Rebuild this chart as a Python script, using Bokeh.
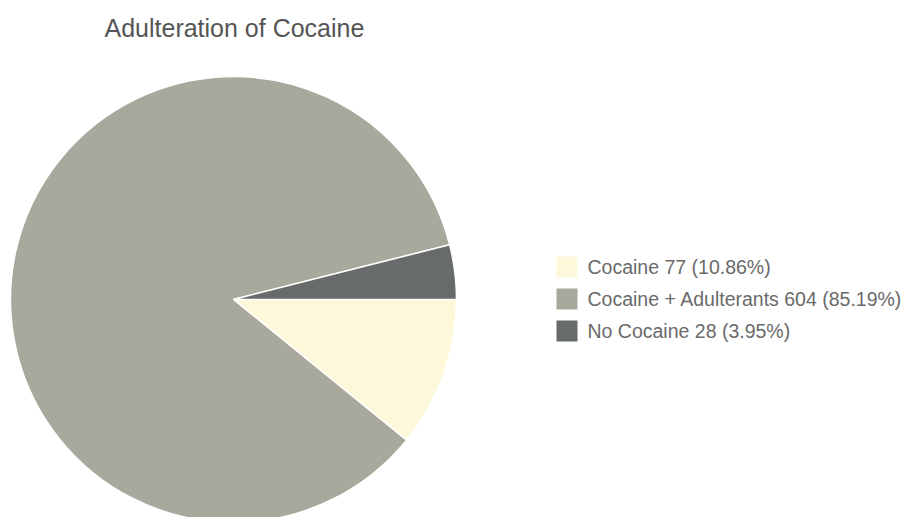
import math
from bokeh.plotting import figure
from bokeh.models import Range1d
from bokeh.core.properties import value
from bokeh.embed import file_html
from bokeh.resources import INLINE

title_text = "Adulteration of Cocaine"
categories = ["Cocaine", "Cocaine + Adulterants", "No Cocaine"]
counts = [77, 604, 28]
colors = ["#FDF8DA", "#A8A89C", "#676B69"]

W, H = 905, 517
p = figure(width=W, height=H, output_backend="svg", toolbar_location=None,
           x_range=Range1d(0, W), y_range=Range1d(0, H), min_border=0)
p.axis.visible = False
p.grid.visible = False
p.outline_line_color = None
p.background_fill_color = "white"
p.border_fill_color = "white"

def px(x):
    return x

def py(y):
    return H - y

total = sum(counts)
fracs = [c / total for c in counts]

# wedges: start at 3 o'clock, proceed clockwise
cx, cy, r = px(233), py(299), 223
cum = 0.0
starts, ends = [], []
for f in fracs:
    a0 = cum * 2 * math.pi
    cum += f
    a1 = cum * 2 * math.pi
    starts.append(-a1)
    ends.append(-a0)

p.wedge(x=[cx] * len(counts), y=[cy] * len(counts), radius=r,
        start_angle=starts, end_angle=ends, direction="anticlock",
        fill_color=colors, line_color="white", line_width=1.5)

# title
p.text(x=[px(104)], y=[py(27)], text=[title_text], text_font=value("Liberation Sans"),
       text_font_size="25px", text_color="#555555", text_baseline="middle")

# legend
labels = [f"{c} {n} ({f * 100:.2f}%)" for c, n, f in zip(categories, counts, fracs)]
row_mid = [266.5, 298.5, 330.5]
p.scatter(x=[px(566.5)] * 3, y=[py(m) for m in row_mid], marker="square", size=21,
          fill_color=colors, line_color=None)
p.text(x=[px(587)] * 3, y=[py(m) for m in row_mid], text=labels,
       text_font=value("Liberation Sans"), text_font_size="19.5px", text_color="#6a6a6a",
       text_baseline="middle")

open("out.html", "w").write(file_html(p, INLINE))
